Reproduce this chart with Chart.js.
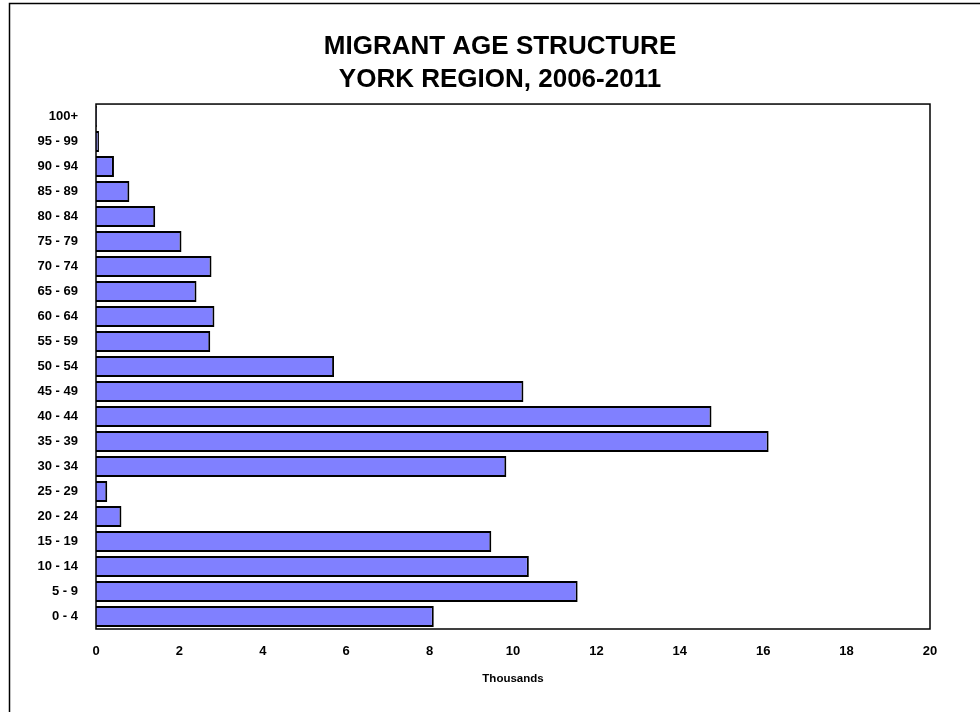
<!DOCTYPE html>
<html>
<head>
<meta charset="utf-8">
<title>Migrant Age Structure, York Region 2006-2011</title>
<script src="https://cdn.jsdelivr.net/npm/chart.js@4.4.1/dist/chart.umd.min.js"></script>
<style>
  html, body { margin: 0; padding: 0; background: #fff; }
  #wrap { width: 980px; height: 712px; position: relative; }
</style>
</head>
<body>
<div id="wrap"><canvas id="chart" width="980" height="712"></canvas></div>
<script>
// Age groups, youngest first (drawn bottom to top)
const ageGroups = [
  "0 - 4", "5 - 9", "10 - 14", "15 - 19", "20 - 24", "25 - 29", "30 - 34",
  "35 - 39", "40 - 44", "45 - 49", "50 - 54", "55 - 59", "60 - 64", "65 - 69",
  "70 - 74", "75 - 79", "80 - 84", "85 - 89", "90 - 94", "95 - 99", "100+"
];

// Net migrants by age group, in thousands
const migrants = [
  8.10, 11.55, 10.38, 9.48, 0.61, 0.27, 9.84,
  16.13, 14.76, 10.25, 5.71, 2.74, 2.84, 2.41,
  2.77, 2.05, 1.42, 0.80, 0.43, 0.07, 0.02
];

const titleLines = ["MIGRANT AGE STRUCTURE", "YORK REGION, 2006-2011"];
const axisTitle = "Thousands";
const xMin = 0, xMax = 20, xStep = 2;

const FONT = "'Liberation Sans', Arial, Helvetica, sans-serif";

// Outer frame of the page and box around the plotting area
const framePlugin = {
  id: 'frames',
  afterDatasetsDraw(chart) {
    const { ctx, chartArea: a } = chart;
    ctx.save();
    ctx.strokeStyle = '#000';
    ctx.lineWidth = 1.5;
    ctx.strokeRect(a.left, a.top, a.right - a.left, a.bottom - a.top);
    ctx.restore();
  },
  afterDraw(chart) {
    const { ctx, width, height } = chart;
    ctx.save();
    ctx.strokeStyle = '#000';
    ctx.lineWidth = 1.5;
    ctx.beginPath();
    ctx.moveTo(9.5, height + 2);
    ctx.lineTo(9.5, 3.5);
    ctx.lineTo(width + 2, 3.5);
    ctx.stroke();
    ctx.restore();
  }
};

new Chart(document.getElementById('chart'), {
  type: 'bar',
  data: {
    labels: ageGroups,
    datasets: [{
      data: migrants,
      backgroundColor: '#8080FF',
      borderColor: '#000',
      borderWidth: 2,
      categoryPercentage: 0.84,
      barPercentage: 1.0
    }]
  },
  options: {
    indexAxis: 'y',
    responsive: false,
    animation: false,
    devicePixelRatio: 1,
    layout: { padding: { left: 20, right: 0, top: 0, bottom: 0 } },
    plugins: {
      legend: { display: false },
      tooltip: { enabled: false },
      title: {
        display: true,
        text: titleLines,
        color: '#000',
        font: { family: FONT, size: 26, weight: 'bold', lineHeight: 1.27 },
        padding: { top: 30, bottom: 8 }
      }
    },
    scales: {
      x: {
        min: xMin,
        max: xMax,
        grid: { display: false, drawTicks: false },
        border: { display: false },
        ticks: {
          stepSize: xStep,
          color: '#000',
          padding: 15,
          font: { family: FONT, size: 13, weight: 'bold' }
        },
        title: {
          display: true,
          text: axisTitle,
          color: '#000',
          font: { family: FONT, size: 11.5, weight: 'bold' },
          padding: { top: 0, bottom: 26 }
        },
        afterFit(scale) { scale.height = 83; }
      },
      y: {
        reverse: true,
        grid: { display: false, drawTicks: false },
        border: { display: false },
        ticks: {
          color: '#000',
          padding: 18,
          autoSkip: false,
          font: { family: FONT, size: 13, weight: 'bold' }
        },
        afterFit(scale) { scale.width = 76; }
      },
      // empty margin on the right of the plot
      yRight: {
        axis: 'y',
        type: 'linear',
        position: 'right',
        grid: { display: false, drawTicks: false },
        border: { display: false },
        ticks: { display: false },
        afterFit(scale) { scale.width = 50; }
      }
    }
  },
  plugins: [framePlugin]
});
</script>
</body>
</html>
